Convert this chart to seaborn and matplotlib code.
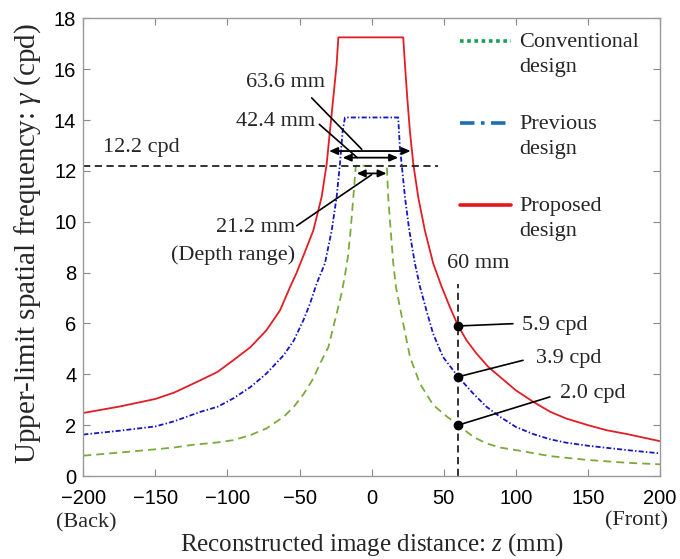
import matplotlib
matplotlib.use("Agg")
import matplotlib.pyplot as plt
import seaborn as sns
import pandas as pd
from matplotlib.lines import Line2D

# ---- data ----
conv_z = [-200, -175, -150, -137, -125, -107, -96, -84, -73, -61, -54, -47, -40.5, -35.8, -30, -26.6,
          -24.3, -20.8, -18.5, -16.5, -14.6, -12.7, -11.0,
          10.5, 11.5, 13.2, 15.0, 16.8, 19.6, 26.6, 33.5, 42.6, 51.9, 60, 70.5, 79.7, 89, 100,
          124, 150, 177, 200]
conv_g = [0.80, 0.92, 1.05, 1.12, 1.22, 1.32, 1.41, 1.61, 1.87, 2.33, 2.72, 3.24, 3.83, 4.42, 5.07, 5.86,
          6.38, 7.2, 7.9, 8.6, 9.66, 10.97, 12.2,
          12.2, 10.97, 9.66, 8.36, 7.45, 6.64, 4.68, 3.63, 2.8, 2.35, 2.0, 1.54, 1.28, 1.12, 1.02,
          0.78, 0.63, 0.52, 0.46]

prev_z = [-200, -175, -150, -137, -119, -107, -96, -84, -73, -61, -54, -47.4, -42.8, -38.2, -32.4,
          -27.7, -24.3, -22.0, -20.1, -18.5,
          18.4, 19.6, 20.8, 23.1, 26.1, 30.0, 33.5, 38.0, 42.6, 49.5, 60, 70.5, 79.7, 89, 100,
          112, 124, 135, 150, 177, 200]
prev_g = [1.63, 1.78, 1.95, 2.15, 2.52, 2.72, 3.05, 3.50, 4.03, 4.75, 5.33, 6.12, 6.77, 7.56, 8.36,
          9.66, 10.97, 12.27, 13.58, 14.1,
          14.1, 12.92, 12.27, 10.97, 9.66, 8.36, 7.45, 6.51, 5.6, 4.68, 3.9, 3.24, 2.72, 2.33, 1.93,
          1.65, 1.44, 1.31, 1.19, 1.02, 0.89]

prop_z = [-200, -175, -150, -137, -119, -107, -96, -84, -73, -63.6, -56.6, -52, -46.7, -40.5, -34.7,
          -31.2, -28.9, -26.6, -24.3, -23.1,
          21.9, 23.1, 24.7, 26.5, 28.9, 32.3, 36.9, 42.7, 48.5, 54.3, 60, 65.9, 72.8, 80.9, 89,
          100, 112, 124, 135, 150, 163, 177, 200]
prop_g = [2.48, 2.73, 3.03, 3.28, 3.76, 4.09, 4.55, 5.07, 5.73, 6.51, 7.43, 8.0, 8.75, 9.65, 10.97,
          12.27, 13.58, 14.88, 16.18, 17.25,
          17.25, 16.18, 14.88, 13.58, 12.27, 10.97, 9.66, 8.36, 7.45, 6.64, 5.9, 5.33, 4.81, 4.29,
          3.9, 3.37, 2.92, 2.52, 2.26, 2.0, 1.8, 1.65, 1.37]

designs = ["Conventional\ndesign", "Previous\ndesign", "Proposed\ndesign"]
point_z = 60
point_g = [5.9, 3.9, 2.0]
point_labels = ["5.9 cpd", "3.9 cpd", "2.0 cpd"]
threshold = 12.2
xticks = [-200, -150, -100, -50, 0, 50, 100, 150, 200]
yticks = [0, 2, 4, 6, 8, 10, 12, 14, 16, 18]

df = pd.concat([
    pd.DataFrame({"z": conv_z, "g": conv_g, "design": designs[0]}),
    pd.DataFrame({"z": prev_z, "g": prev_g, "design": designs[1]}),
    pd.DataFrame({"z": prop_z, "g": prop_g, "design": designs[2]}),
])

sns.set_style("ticks")
plt.rcParams["font.family"] = ["Liberation Serif", "DejaVu Serif"]
plt.rcParams["mathtext.fontset"] = "custom"
plt.rcParams["mathtext.rm"] = "Liberation Serif"
plt.rcParams["mathtext.it"] = "Liberation Serif:italic"

fig = plt.figure(figsize=(6.8, 5.59), dpi=100)
ax = fig.add_axes([83.3 / 680, 1 - 476 / 559, (660 - 83.3) / 680, (476 - 18.3) / 559])

line_colors = {designs[0]: "#7aaa3c", designs[1]: "#1515c8", designs[2]: "#e31d24"}
dash_map = {designs[0]: (4.4, 2.8), designs[1]: (2.8, 1.2, 0.8, 1.2), designs[2]: ""}
sns.lineplot(data=df, x="z", y="g", hue="design", style="design", palette=line_colors,
             dashes=dash_map, estimator=None, sort=False, lw=1.3, legend=False, ax=ax)

# reference lines
ax.plot([-200, 46], [threshold, threshold], ls=(0, (4, 2.5)), color="#222222", lw=1.3)
ax.plot([point_z, point_z], [0, 7.56], ls=(0, (4, 2.5)), color="#222222", lw=1.3)
ax.plot([point_z] * 3, point_g, "o", color="black", ms=6, zorder=5)

ax.set_xlim(-200, 200)
ax.set_ylim(0, 18)
ax.set_xticks(xticks)
ax.set_yticks(yticks)
ax.tick_params(direction="in", top=True, right=True, length=5, color="#888888",
               labelsize=14.5, labelcolor="black")
ax.tick_params(axis="x", pad=9.5)
ax.tick_params(axis="y", pad=5)
for lab in ax.get_xticklabels() + ax.get_yticklabels():
    lab.set_fontfamily("Liberation Sans")
for sp in ax.spines.values():
    sp.set_color("#999999")
    sp.set_linewidth(1.0)

ax.set_xlabel(r"Reconstructed image distance: $z$ (mm)", fontsize=18)
ax.set_ylabel(r"Upper-limit spatial frequency: $\gamma$ (cpd)", fontsize=21)
ax.xaxis.set_label_coords(0.5, -0.121)
ax.yaxis.set_label_coords(-0.070, 0.507)

ax.text(-198, -0.103, "(Back)", transform=ax.get_xaxis_transform(), ha="center", va="center", fontsize=16)
ax.text(205.5, -0.097, "(Front)", transform=ax.get_xaxis_transform(), ha="right", va="center",
        fontsize=16, clip_on=False)

fs = 16
arrow_kw = dict(arrowstyle="<|-|>,head_length=0.5,head_width=0.22", color="black", lw=1.3,
                shrinkA=0, shrinkB=0)
ax.annotate("", xy=(-29.5, 12.78), xytext=(27, 12.78), arrowprops=arrow_kw)
ax.annotate("", xy=(-20.1, 12.52), xytext=(18.4, 12.52), arrowprops=arrow_kw)
ax.annotate("", xy=(-10.4, 11.9), xytext=(10.4, 11.9), arrowprops=arrow_kw)
ax.plot([-41.6, -6.9], [14.87, 12.85], color="black", lw=1.2)
ax.plot([-36.3, -10], [13.83, 12.52], color="black", lw=1.2)
ax.plot([-52, 0], [9.84, 11.85], color="black", lw=1.2)
ax.text(-32.4, 15.46, "63.6 mm", ha="right", va="center", fontsize=fs)
ax.text(-39.3, 13.96, "42.4 mm", ha="right", va="center", fontsize=fs)
ax.text(-186, 12.92, "12.2 cpd", ha="left", va="center", fontsize=fs)
ax.text(-53.2, 9.78, "21.2 mm", ha="right", va="center", fontsize=fs)
ax.text(-53.2, 8.67, "(Depth range)", ha="right", va="center", fontsize=fs)
ax.text(73.9, 8.34, "60 mm", ha="center", va="center", fontsize=fs)

label_pos = [(104.6, 5.9, 98, 5.99), (114.3, 4.61, 105, 4.55), (130.5, 3.24, 123.6, 3.11)]
for g, lab, (tx, ty, lx, ly) in zip(point_g, point_labels, label_pos):
    ax.plot([point_z, lx], [g, ly], color="black", lw=1.2)
    ax.text(tx, ty, lab, ha="left", va="center", fontsize=fs)

handles = [
    Line2D([], [], color="#16a050", lw=2.6, ls=(0, (1, 1))),
    Line2D([], [], color="#1e6eb4", lw=2.6, ls=(0, (4, 1.8, 1, 1.8))),
    Line2D([], [], color="#e8141c", lw=2.6),
]
leg = ax.legend(handles, designs, loc="upper left", bbox_to_anchor=(0.653, 0.968),
                frameon=False, fontsize=fs, handlelength=2.3, handletextpad=0.37,
                labelspacing=1.7, borderpad=0, borderaxespad=0)
for t in leg.get_texts():
    t.set_linespacing(1.45)
for h in leg.legend_handles:
    y = h.get_ydata()
    h.set_ydata([v + 9.6 for v in y])

fig.savefig("out.png", dpi=100)
